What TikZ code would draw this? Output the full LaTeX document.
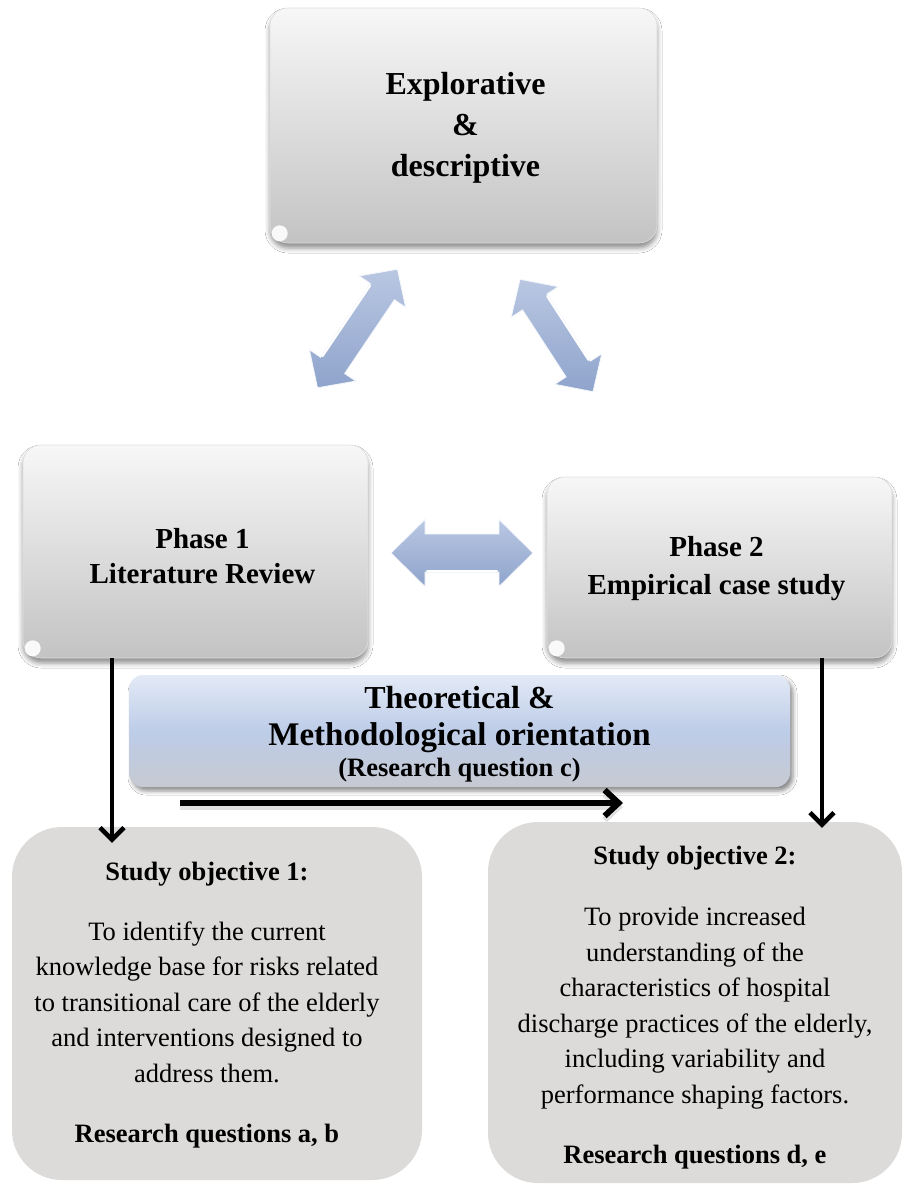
\documentclass[tikz,border=0pt]{standalone}
\usepackage{fontspec}
\setmainfont{Liberation Serif}
\usetikzlibrary{arrows.meta,shadows.blur}

\definecolor{glosstop}{HTML}{F7F7F7}
\definecolor{glossbot}{HTML}{C3C3C3}
\definecolor{theotop}{HTML}{E3EAF6}
\definecolor{theomid}{HTML}{BDCCE8}
\definecolor{theobot}{HTML}{C6CAD2}
\definecolor{objfill}{HTML}{DCDBDA}
\definecolor{arrowtop}{HTML}{B9C7E2}
\definecolor{arrowbot}{HTML}{8FA4CC}

\tikzset{
  % double-headed block arrow: half length, half shaft, half head, head length
  pics/dblarrow/.style n args={4}{code={
    \shade[top color=arrowtop, bottom color=arrowbot, draw=white!85!arrowtop, line width=0.8pt]
      (-#1,0) -- (-#1+#4,-#3) -- (-#1+#4,-#2) -- (#1-#4,-#2) -- (#1-#4,-#3) -- (#1,0)
      -- (#1-#4,#3) -- (#1-#4,#2) -- (-#1+#4,#2) -- (-#1+#4,#3) -- cycle;
    \draw[white, line width=2pt, line cap=round] (-#1+#4+2,#2-1) -- (#1-#4-2,#2-1);
  }}
}

\begin{document}
\begin{tikzpicture}[x=1pt,y=-1pt,
  glossbox/.style={rounded corners=18pt, top color=glosstop, bottom color=glossbot,
    draw=gray!25, line width=0.6pt, inner sep=0pt,
    blur shadow={shadow xshift=0pt, shadow yshift=-5pt, shadow blur radius=5pt, shadow opacity=45}},
  gloss/.style={fill=white, opacity=0.9},
  theobox/.style={rounded corners=14pt, top color=theotop, bottom color=theobot, middle color=theomid,
    draw=none, inner sep=0pt,
    blur shadow={shadow xshift=3pt, shadow yshift=-4pt, shadow blur radius=4pt, shadow opacity=45}},
  objbox/.style={rounded corners=50pt, fill=objfill, draw=none, inner sep=0pt},
  boldtext/.style={align=center, inner sep=0pt},
  objtext/.style={align=center, inner sep=0pt, font=\fontsize{26.5}{35.5}\selectfont},
  link/.style={line width=4.5pt, -{Straight Barb[length=12pt,width=24pt]}},
  flow/.style={line width=6pt, -{Straight Barb[length=14pt,width=26pt]}},
]
\useasboundingbox (0,0) rectangle (904,1187);
\fill[white] (0,0) rectangle (904,1187);

% top box
\node[glossbox, minimum width=387pt, minimum height=235pt] (explore) at (463.5,125.5) {};
\fill[gloss] ([xshift=10pt,yshift=10pt]explore.south west) circle (8pt);
\node[boldtext, font=\fontsize{32}{41}\selectfont\bfseries] (exploret)
  at ([xshift=2pt,yshift=-2pt]explore.center) {Explorative\\\&\\descriptive};

% phase boxes
\node[glossbox, minimum width=345pt, minimum height=213pt] (phase1) at (195.5,551.5) {};
\fill[gloss] ([xshift=10pt,yshift=10pt]phase1.south west) circle (8pt);
\node[boldtext, font=\fontsize{29}{35}\selectfont\bfseries] (phase1t)
  at ([xshift=7pt,yshift=-5pt]phase1.center) {Phase 1\\Literature Review};

\node[glossbox, minimum width=345pt, minimum height=181pt] (phase2) at (719.5,567.5) {};
\fill[gloss] ([xshift=10pt,yshift=10pt]phase2.south west) circle (8pt);
\node[boldtext, font=\fontsize{29}{38}\selectfont\bfseries] (phase2t)
  at ([xshift=-3pt,yshift=-1pt]phase2.center) {Phase 2\\Empirical case study};

% block arrows between the three parts
\pic (linkmid) at (462,553) {dblarrow={71}{19}{33.5}{34}};
\pic[rotate=236] (linkleft) at (357.5,328.5) {dblarrow={71.5}{14.5}{28}{27}};
\pic[rotate=123] (linkright) at (556.5,335.5) {dblarrow={67}{14.5}{28}{27}};

% orientation band
\node[theobox, minimum width=661pt, minimum height=112pt] (theory) at (459.5,731) {};
\node[boldtext, font=\fontsize{32}{37}\selectfont\bfseries] (theoryt)
  at ([yshift=-3pt]theory.center)
  {Theoretical \&\\{\fontsize{33}{37}\selectfont Methodological orientation}\\[-6pt]{\fontsize{26.5}{31}\selectfont (Research question c)}};

% objectives
\node[objbox, minimum width=410pt, minimum height=353pt] (goal1) at (217,1003.5) {};
\node[objtext] (goal1t) at ([xshift=-10pt,yshift=-2pt]goal1.center)
  {\textbf{Study objective 1:}\\[24pt]To identify the current\\knowledge base for risks related\\to transitional care of the elderly\\and interventions designed to\\address them.\\[25pt]\textbf{Research questions a, b}};

\node[objbox, minimum width=414pt, minimum height=361pt] (goal2) at (695,1002.5) {};
\node[objtext] (goal2t) at ([yshift=-5pt]goal2.center)
  {\textbf{Study objective 2:}\\[26pt]To provide increased\\understanding of the\\characteristics of hospital\\discharge practices of the elderly,\\including variability and\\performance shaping factors.\\[25pt]\textbf{Research questions d, e}};

% connectors
\coordinate (leftx) at (112,0);
\coordinate (rightx) at (822,0);
\draw[link, shorten >=-16pt] (phase1.south -| leftx) -- (goal1.north -| leftx);
\draw[link, shorten >=-6pt] (phase2.south -| rightx) -- (goal2.north -| rightx);

\coordinate (flowstart) at (180,803);
\coordinate (flowend) at (623,803);
\draw[flow, draw=gray!40, opacity=0.6] ([yshift=-4pt]flowstart) -- ([yshift=-4pt]flowend);
\draw[flow] (flowstart) -- (flowend);
\end{tikzpicture}
\end{document}
